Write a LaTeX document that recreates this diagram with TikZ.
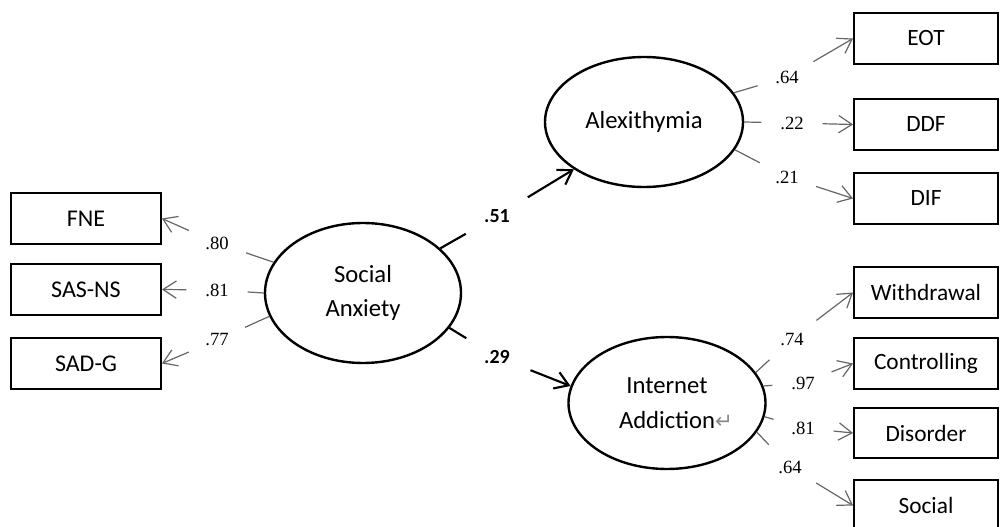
\documentclass[tikz,border=0pt]{standalone}
\usepackage{fontspec}
\setmainfont{Carlito}
\newfontfamily\numfont{Liberation Serif}
\newfontfamily\symfont{DejaVu Sans}
\usepackage{xcolor}
\usepackage{tikz}
\usetikzlibrary{shapes.geometric, arrows.meta}
\definecolor{linegray}{HTML}{666666}
\definecolor{retgray}{HTML}{8A8A8A}
\tikzstyle{measure} = [rectangle, minimum width=112.5pt, minimum height=38.25pt, text centered, draw=black, line width=1.4pt, font=\fontsize{18}{21}\selectfont]
\tikzstyle{indicator} = [rectangle, minimum width=108pt, minimum height=38pt, text centered, draw=black, line width=1.4pt, font=\fontsize{17.5}{20}\selectfont]
\tikzstyle{latent} = [ellipse, inner sep=0pt, text centered, align=center, draw=black, line width=1.8pt, font=\fontsize{18.5}{26}\selectfont]
\tikzstyle{loading} = [circle, inner sep=0pt, outer sep=0pt, minimum size=46pt, font=\numfont\fontsize{14}{16}\selectfont]
\tikzstyle{path coef} = [circle, inner sep=0pt, outer sep=0pt, minimum size=54pt, font=\bfseries\fontsize{15}{17}\selectfont]
\tikzstyle{stub} = [linegray, line width=0.9pt]
\tikzstyle{arrow} = [linegray, line width=0.9pt, -{Straight Barb[length=10pt,width=13pt]}]
\tikzstyle{bold stub} = [black, line width=1.6pt]
\tikzstyle{bold arrow} = [black, line width=1.6pt, -{Straight Barb[length=10pt,width=13pt]}]

\begin{document}
\begin{tikzpicture}[x=0.75pt, y=-0.75pt]

  \useasboundingbox (0,0) rectangle (1000,527);
  \clip (0,0) rectangle (1000,527);

  % latent variables
  \node (soc anx) [latent, minimum width=147pt, minimum height=105pt] at (363,293) {Social\\Anxiety};
  \node (alex) [latent, minimum width=148.5pt, minimum height=97.5pt] at (644,122) {Alexithymia};
  \node (int add) [latent, minimum width=147.75pt, minimum height=99pt] at (667,403) {Internet\\Addiction\rlap{\symfont\fontsize{16}{16}\selectfont\color{retgray}↵}};

  % observed variables
  \node (fne) [measure] at (86,218.5) {FNE};
  \node (sas ns) [measure] at (86,289.5) {SAS-NS};
  \node (sad g) [measure] at (86,363.5) {SAD-G};
  \node (eot) [indicator] at (926,38.5) {EOT};
  \node (ddf) [indicator] at (926,124.5) {DDF};
  \node (dif) [indicator] at (926,198.5) {DIF};
  \node (withdr) [indicator] at (926,292.5) {Withdrawal};
  \node (control) [indicator] at (926,363.5) {Controlling};
  \node (disord) [indicator] at (926,433) {Disorder};
  \node (social) [indicator] at (926,505.5) {Social};

  % coefficients
  \node (l fne) [loading] at (217,243) {.80};
  \node (l sas) [loading] at (217,290) {.81};
  \node (l sad) [loading] at (217,340) {.77};
  \node (l alex) [path coef] at (497,216) {.51};
  \node (l int) [path coef] at (497,357) {.29};
  \node (l eot) [loading] at (787,77) {.64};
  \node (l ddf) [loading] at (792,123) {.22};
  \node (l dif) [loading] at (787,177) {.21};
  \node (l withdr) [loading] at (792,339) {.74};
  \node (l control) [loading] at (803,383) {.97};
  \node (l disord) [loading] at (803,428) {.81};
  \node (l social) [loading] at (790,467) {.64};

  % social anxiety
  \draw [stub] (soc anx.161) -- (l fne);
  \draw [arrow] (l fne) -- (fne.east);
  \draw [stub] (soc anx.180) -- (l sas);
  \draw [arrow] (l sas) -- (sas ns.east);
  \draw [stub] (soc anx.194) -- (l sad);
  \draw [arrow] (l sad) -- (sad g.east);

  % structural paths
  \draw [bold stub] (soc anx.30) -- (l alex);
  \draw [bold arrow] (l alex) -- (alex.214);
  \draw [bold stub] (soc anx.338) -- (l int);
  \draw [bold arrow] (l int) -- (int add.170);

  % alexithymia
  \draw [stub] (alex.18) -- (l eot);
  \draw [arrow] (l eot) -- (eot.west);
  \draw [stub] (alex.0) -- (l ddf);
  \draw [arrow] (l ddf) -- (ddf.west);
  \draw [stub] (alex.343) -- (l dif);
  \draw [arrow] (l dif) -- (dif.west);

  % internet addiction
  \draw [stub] (int add.19) -- (l withdr);
  \draw [arrow] (l withdr) -- (withdr.west);
  \draw [stub] (int add.10) -- (l control);
  \draw [arrow] (l control) -- (control.west);
  \draw [stub] (int add.352) -- (l disord);
  \draw [arrow] (l disord) -- (disord.west);
  \draw [stub] (int add.342) -- (l social);
  \draw [arrow] (l social) -- (social.west);

\end{tikzpicture}
\end{document}
